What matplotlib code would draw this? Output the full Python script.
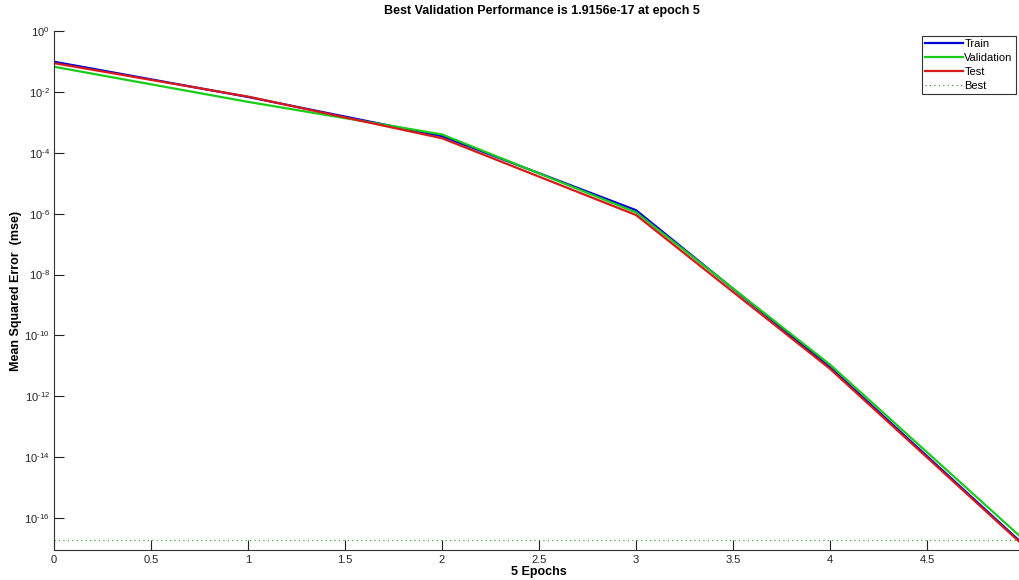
import matplotlib
matplotlib.use("Agg")
import matplotlib.pyplot as plt
import numpy as np

plt.rcParams['font.family'] = ['Liberation Sans', 'DejaVu Sans']
plt.rcParams['mathtext.fontset'] = 'custom'
plt.rcParams['mathtext.rm'] = 'Liberation Sans'
plt.rcParams['mathtext.it'] = 'Liberation Sans'

epochs = [0, 1, 2, 3, 4, 5]
train = [0.098, 6.8e-3, 3.5e-4, 1.3e-6, 9e-12, 1.3e-17]
validation = [0.067, 4.7e-3, 4.0e-4, 1.1e-6, 1.1e-11, 1.9156e-17]
test = [0.088, 7.0e-3, 3.0e-4, 9e-7, 8e-12, 1.2e-17]
best_epoch = 5
best_perf = 1.9156e-17

xticks = [0, 0.5, 1, 1.5, 2, 2.5, 3, 3.5, 4, 4.5]
yexps = [0, -2, -4, -6, -8, -10, -12, -14, -16]

fig = plt.figure(figsize=(10.2, 5.8), dpi=100)
ax = fig.add_axes([54/1020, 30/580, 970/1020, 519/580])

ax.plot(epochs, train, color=(0, 0, 0.85), lw=1.6, label='Train')
ax.plot(epochs, validation, color=(0.1, 0.8, 0.1), lw=1.6, label='Validation')
ax.plot(epochs, test, color=(0.85, 0.1, 0.1), lw=1.6, label='Test')
ax.axhline(best_perf, color=(0.1, 0.6, 0.1), ls=(0, (1, 3)), lw=0.8, label='Best')

ax.set_yscale('log')
ax.set_xlim(0, 5)
ax.set_ylim(10**-17.05, 1)
ax.set_xticks(xticks)
ax.set_xticklabels([('%g' % t) for t in xticks], fontsize=8.5)
ax.set_yticks([10.0**e for e in yexps])
ax.set_yticklabels(['$\\mathregular{10^{\\text{%d}}}$' % e for e in yexps])
ax.minorticks_off()
ax.tick_params(direction='in', length=7, width=0.8, labelsize=8, colors='#222222')
ax.tick_params(axis='y', pad=3)

ax.spines['top'].set_visible(False)
ax.spines['right'].set_visible(False)
for s in ['left', 'bottom']:
    ax.spines[s].set_color('#333333')

fig.text(542/1020, 1 - 11/580,
         'Best Validation Performance is %.4e at epoch %d' % (best_perf, best_epoch),
         fontsize=9, fontweight='bold', ha='center', va='center')
ax.set_xlabel('%d Epochs' % best_epoch, fontsize=9, fontweight='bold', labelpad=1)
ax.set_ylabel('Mean Squared Error  (mse)', fontsize=9, fontweight='bold')
ax.yaxis.set_label_coords(-32/970, 0.5)

leg = ax.legend(loc='upper right', bbox_to_anchor=((1016 - 54)/970, 1.0 - 5/519), fontsize=8,
                handlelength=3.4, handletextpad=0.1, borderpad=0.3, labelspacing=0.35,
                borderaxespad=0, fancybox=False, framealpha=1, edgecolor='#333333')
leg.get_frame().set_linewidth(0.8)

fig.savefig('out.png', dpi=100)
